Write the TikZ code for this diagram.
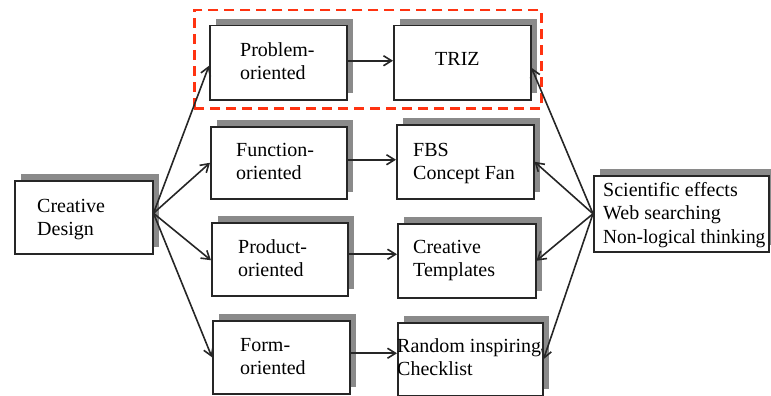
\documentclass[tikz,border=0pt]{standalone}
\usepackage{fontspec}
\setmainfont{Liberation Serif}
\usetikzlibrary{arrows.meta,shadows}
\definecolor{shd}{HTML}{8A8A8A}
\definecolor{dred}{HTML}{FF3311}
\begin{document}
\begin{tikzpicture}[x=1pt,y=-1pt,
  box/.style={draw=black!85, line width=1.5pt, fill=white, inner sep=0pt, anchor=north west,
    general shadow={fill=shd, shadow xshift=6pt, shadow yshift=7pt}},
  txt/.style={anchor=base west, align=left, inner sep=0pt, font=\fontsize{20}{23.5}\selectfont},
  arr/.style={-{Straight Barb[length=8pt,width=10pt]}, line width=1.6pt, black!85},
  grpbox/.style={draw=dred, dash pattern=on 10pt off 6pt, line width=2.5pt, inner sep=0pt, anchor=north west}]
\useasboundingbox (0,0) rectangle (771,396);
% group frame
\node[grpbox, minimum width=347pt, minimum height=98pt] (grp) at (193,9) {};
% boxes
\node[box, minimum width=138pt, minimum height=73pt] (cd) at (14,180) {};
\node[box, minimum width=137pt, minimum height=74pt] (prob) at (209,25) {};
\node[box, minimum width=137pt, minimum height=74pt] (triz) at (393,25) {};
\node[box, minimum width=136pt, minimum height=72pt] (func) at (210,126) {};
\node[box, minimum width=137pt, minimum height=74pt] (fbs) at (396,124) {};
\node[box, minimum width=136pt, minimum height=73pt] (prod) at (211,222) {};
\node[box, minimum width=138pt, minimum height=74pt] (tmpl) at (397,223) {};
\node[box, minimum width=137pt, minimum height=73pt] (form) at (212,320) {};
\node[box, minimum width=145pt, minimum height=73pt] (rand) at (397,322) {};
\node[box, minimum width=175pt, minimum height=76pt] (rb) at (593,175) {};
% texts (anchor = baseline of last line)
\node[txt] (cdt) at (37,235.5) {Creative\\Design};
\node[txt] (probt) at (240,79.5) {Problem-\\oriented};
\node[txt] (trizt) at (435,66) {TRIZ};
\node[txt] (funct) at (236,179.5) {Function-\\oriented};
\node[txt] (fbst) at (413,179.5) {FBS\\Concept Fan};
\node[txt] (prodt) at (238,276.5) {Product-\\oriented};
\node[txt] (tmplt) at (413,276.5) {Creative\\Templates};
\node[txt] (formt) at (240,374.5) {Form-\\oriented};
\node[txt] (randt) at (397,375.5) {Random inspiring\\Checklist};
\node[txt] (rbt) at (603,243) {Scientific effects\\Web searching\\\scalebox{0.97}[1]{Non-logical thinking}};
% connectors
\coordinate (cdo) at ([yshift=4pt]cd.east);
\draw[arr] (cdo) -- ([yshift=-3pt]prob.west);
\draw[arr] (cdo) -- (func.west);
\draw[arr] (cdo) -- ([yshift=-1pt]prod.west);
\draw[arr] (cdo) -- (form.west);
\draw[arr] ([yshift=2pt]prob.east) -- ([yshift=2pt]prob.east -| triz.west);
\draw[arr] ([yshift=3pt]func.east) -- ([yshift=3pt]func.east -| fbs.west);
\draw[arr] ([yshift=5pt]prod.east) -- ([yshift=5pt]prod.east -| tmpl.west);
\draw[arr] ([yshift=4pt]form.east) -- ([yshift=4pt]form.east -| rand.west);
\draw[arr] (rb.west) -- ([yshift=-5pt]triz.east);
\draw[arr] (rb.west) -- (fbs.east);
\draw[arr] (rb.west) -- (tmpl.east);
\draw[arr] (rb.west) -- (rand.east);
\end{tikzpicture}
\end{document}
